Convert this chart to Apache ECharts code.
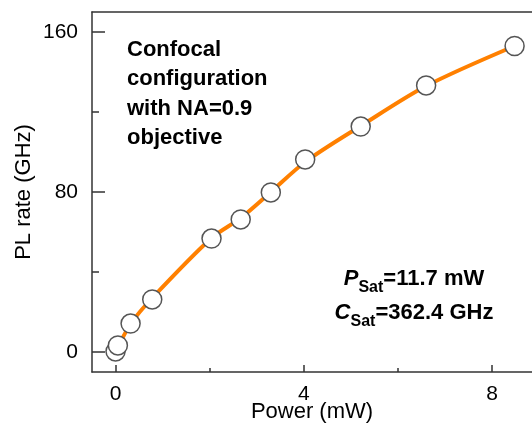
<!DOCTYPE html>
<html>
<head>
<meta charset="utf-8">
<script src="https://cdn.jsdelivr.net/npm/echarts@6/dist/echarts.min.js"></script>
<style>
  html, body { margin: 0; padding: 0; background: #fff; }
  #chart { width: 532px; height: 424px; }
</style>
</head>
<body>
<div id="chart"></div>
<script>
// measured PL rate vs excitation power
var power = [0, 0.05, 0.32, 0.78, 2.04, 2.66, 3.3, 4.03, 5.21, 6.6, 8.48];
var plRate = [0.3, 3.3, 14.2, 26.3, 56.7, 66.3, 79.8, 96.3, 112.7, 133.3, 153];
// saturation fit curve
var fitPower = [0, 0.32, 0.78, 2.04, 2.66, 3.3, 4.03, 5.21, 6.6, 8.48];
var fitRate = [0, 14, 27, 57, 67, 80, 95, 113, 133, 153];
// ticks
var xMajor = [0, 4, 8];
var xMinor = [2, 6];
var yMajor = [0, 80, 160];
var yMinor = [40, 120];

var axisColor = "#333";
var font = "Liberation Sans, Arial, sans-serif";

var pts = power.map(function (p, i) { return [p, plRate[i]]; });
var fit = fitPower.map(function (p, i) { return [p, fitRate[i]]; });

var chart = echarts.init(document.getElementById("chart"));
var option = {
  animation: false,
  backgroundColor: "#fff",
  grid: { left: 92, right: 0, top: 12, bottom: 52, outerBoundsMode: "none", containLabel: false },
  xAxis: [
    {
      type: "value",
      position: "bottom",
      min: -0.5,
      max: 8.85,
      name: "Power (mW)",
      nameLocation: "middle",
      nameGap: 29,
      nameMoveOverlap: false,
      nameTextStyle: { fontFamily: font, fontSize: 22, color: "#000" },
      axisLine: { onZero: false, lineStyle: { color: axisColor, width: 1.5 } },
      axisTick: { inside: true, length: 7, customValues: xMajor, lineStyle: { color: axisColor, width: 1.5 } },
      axisLabel: { customValues: xMajor, margin: 12, fontFamily: font, fontSize: 21, color: "#000" },
      splitLine: { show: false },
    },
    {
      type: "value",
      position: "bottom",
      min: -0.5,
      max: 8.85,
      axisLine: { show: false, onZero: false },
      axisTick: { inside: true, length: 4, customValues: xMinor, lineStyle: { color: axisColor, width: 1.5 } },
      axisLabel: { show: false },
      splitLine: { show: false },
    },
    {
      type: "value",
      position: "top",
      min: -0.5,
      max: 8.85,
      axisLine: { onZero: false, lineStyle: { color: axisColor, width: 1.5 } },
      axisTick: { show: false },
      axisLabel: { show: false },
      splitLine: { show: false },
    },
  ],
  yAxis: [
    {
      type: "value",
      position: "left",
      min: -10,
      max: 170,
      name: "PL rate (GHz)",
      nameLocation: "middle",
      nameGap: 57,
      nameMoveOverlap: false,
      nameTextStyle: { fontFamily: font, fontSize: 22, color: "#000" },
      axisLine: { onZero: false, lineStyle: { color: axisColor, width: 1.5 } },
      axisTick: { inside: true, length: 13, customValues: yMajor, lineStyle: { color: axisColor, width: 1.5 } },
      axisLabel: { customValues: yMajor, margin: 14, fontFamily: font, fontSize: 21, color: "#000" },
      splitLine: { show: false },
    },
    {
      type: "value",
      position: "left",
      min: -10,
      max: 170,
      axisLine: { show: false, onZero: false },
      axisTick: { inside: true, length: 7, customValues: yMinor, lineStyle: { color: axisColor, width: 1.5 } },
      axisLabel: { show: false },
      splitLine: { show: false },
    },
  ],
  graphic: [
    {
      type: "text",
      left: 127,
      top: 35,
      style: {
        text: "Confocal\nconfiguration\nwith NA=0.9\nobjective",
        fontFamily: font,
        fontSize: 22,
        fontWeight: "bold",
        lineHeight: 29.5,
        fill: "#000",
      },
    },
    {
      type: "text",
      x: 414,
      y: 262,
      style: {
        text: "{i|P}{s|Sat}{b|=11.7 mW}\n{i|C}{s|Sat}{b|=362.4 GHz}",
        align: "center",
        fontFamily: font,
        fill: "#000",
        rich: {
          i: { fontFamily: font, fontSize: 22, fontWeight: "bold", fontStyle: "italic", lineHeight: 34 },
          b: { fontFamily: font, fontSize: 22, fontWeight: "bold", lineHeight: 34 },
          s: { fontFamily: font, fontSize: 16, fontWeight: "bold", lineHeight: 20, verticalAlign: "bottom" },
        },
      },
    },
  ],
  series: [
    {
      name: "fit",
      type: "line",
      data: fit,
      smooth: 0.3,
      showSymbol: false,
      lineStyle: { color: "#FF8000", width: 4 },
      z: 2,
    },
    {
      name: "data",
      type: "scatter",
      data: pts,
      symbol: "circle",
      symbolSize: 19,
      itemStyle: { color: "#fff", borderColor: "#555", borderWidth: 1.5, opacity: 1 },
      z: 3,
    },
  ],
};
chart.setOption(option);
</script>
</body>
</html>
